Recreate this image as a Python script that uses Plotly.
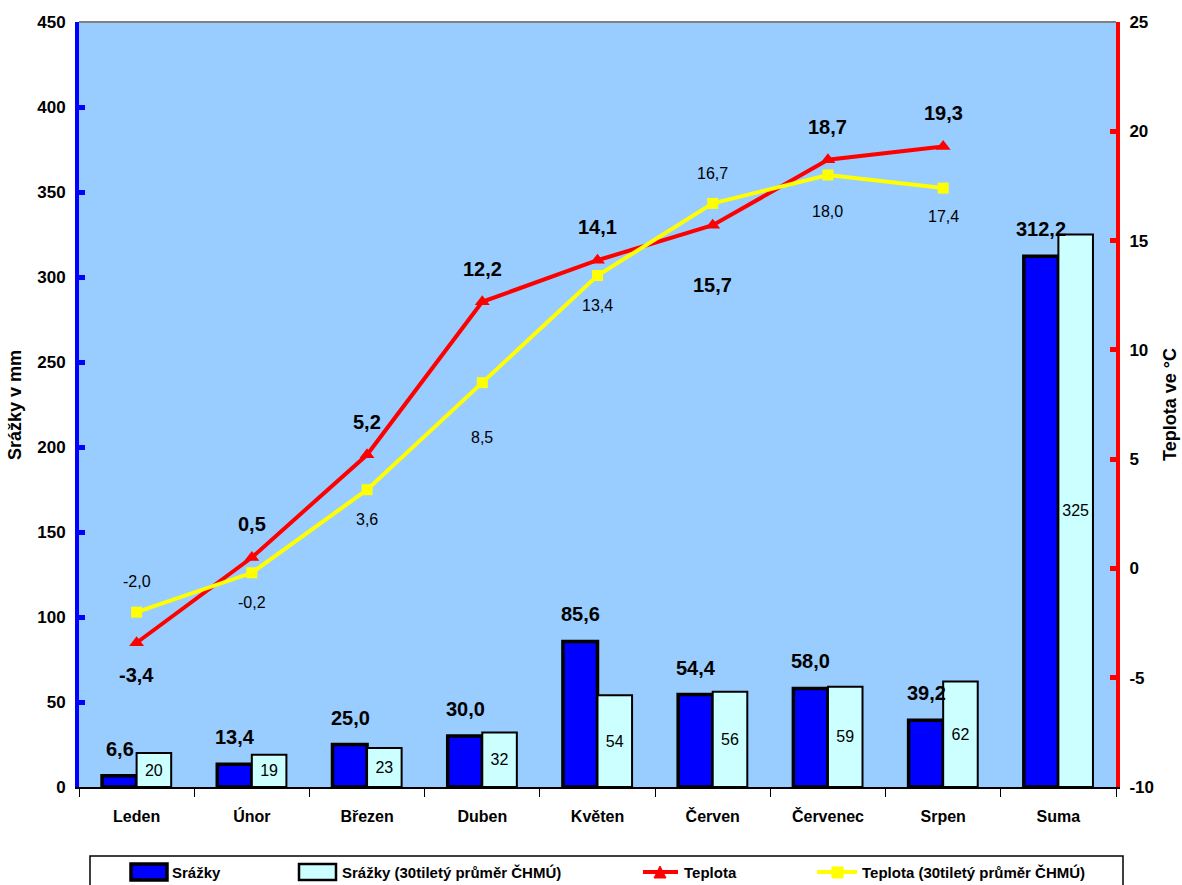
import plotly.graph_objects as go

# Monthly data
mesice = ["Leden", "Únor", "Březen", "Duben", "Květen", "Červen", "Červenec", "Srpen", "Suma"]
srazky = [6.6, 13.4, 25.0, 30.0, 85.6, 54.4, 58.0, 39.2, 312.2]
srazky_30 = [20, 19, 23, 32, 54, 56, 59, 62, 325]
teplota = [-3.4, 0.5, 5.2, 12.2, 14.1, 15.7, 18.7, 19.3]
teplota_30 = [-2.0, -0.2, 3.6, 8.5, 13.4, 16.7, 18.0, 17.4]

# right-axis ticks (plain hyphen for negatives)
teplota_ticks = [-10, -5, 0, 5, 10, 15, 20, 25]
teplota_ticktext = ["-10", "-5", "0", "5", "10", "15", "20", "25"]

# label offsets (px): positive = above the point
teplota_shift = [-32, 34, 33, 33, 33, -60, 33, 34]
teplota_30_shift = [31, -30, -30, -55, -30, 30, -36, -28]

W, H = 1182, 885
ML, MR, MT, MB = 79, 66, 22, 98
PW, PH = W - ML - MR, H - MT - MB

FONT = "Liberation Sans, Arial, sans-serif"


def px(xp):
    return (xp - ML) / PW


def py(yp):
    return (H - MB - yp) / PH


def fmt(v):
    return f"{v:.1f}".replace(".", ",")


def bold(size):
    return dict(family=FONT, size=size, color="black", weight="bold")


fig = go.Figure()

fig.add_trace(go.Bar(
    x=mesice, y=srazky, name="Srážky",
    marker=dict(color="#0000FF", line=dict(color="black", width=3.5)),
    yaxis="y", xaxis="x",
))
fig.add_trace(go.Bar(
    x=mesice, y=srazky_30, name="Srážky (30tiletý průměr ČHMÚ)",
    marker=dict(color="#CCFFFF", line=dict(color="black", width=2)),
    text=[str(v) for v in srazky_30], textposition="inside",
    insidetextanchor="middle", constraintext="none",
    textfont=dict(family=FONT, size=16, color="black"),
    yaxis="y", xaxis="x",
))
fig.add_trace(go.Scatter(
    x=mesice[:len(teplota)], y=teplota, name="Teplota",
    mode="lines+markers", line=dict(color="#FF0000", width=4),
    marker=dict(symbol="triangle-up", size=13, color="#FF0000"),
    yaxis="y2", xaxis="x",
))
fig.add_trace(go.Scatter(
    x=mesice[:len(teplota_30)], y=teplota_30, name="Teplota (30tiletý průměr ČHMÚ)",
    mode="lines+markers", line=dict(color="#FFFF00", width=4),
    marker=dict(symbol="square", size=11, color="#FFFF00"),
    yaxis="y2", xaxis="x",
))

annotations = []
# precipitation values above the blue bars
for m, v in zip(mesice, srazky):
    annotations.append(dict(
        x=m, y=v, xref="x", yref="y", text=fmt(v), showarrow=False,
        xshift=-17, yshift=27, font=bold(20),
    ))
# temperature labels
for m, v, s in zip(mesice, teplota, teplota_shift):
    annotations.append(dict(
        x=m, y=v, xref="x", yref="y2", text=fmt(v), showarrow=False,
        yshift=s, font=bold(20),
    ))
for m, v, s in zip(mesice, teplota_30, teplota_30_shift):
    annotations.append(dict(
        x=m, y=v, xref="x", yref="y2", text=fmt(v), showarrow=False,
        yshift=s, font=dict(family=FONT, size=16, color="black"),
    ))

# axis titles
annotations.append(dict(
    x=px(15), y=py(405), xref="paper", yref="paper", text="Srážky v mm",
    xanchor="center", yanchor="middle",
    textangle=-90, showarrow=False, font=bold(18),
))
annotations.append(dict(
    x=px(1170), y=py(405), xref="paper", yref="paper", text="Teplota ve °C",
    xanchor="center", yanchor="middle",
    textangle=-90, showarrow=False, font=bold(18),
))

shapes = [
    # grey top border of the plot area
    dict(type="line", xref="paper", yref="paper", x0=0, x1=1, y0=1, y1=1,
         line=dict(color="#808080", width=2)),
]

# legend drawn as a framed row below the chart
ly0, ly1 = py(864), py(880)
lyc = py(872)
shapes.append(dict(type="rect", xref="paper", yref="paper",
                   x0=px(90), x1=px(1123), y0=py(856), y1=py(900),
                   line=dict(color="black", width=1.5), fillcolor="white", layer="below"))
shapes.append(dict(type="rect", xref="paper", yref="paper",
                   x0=px(131), x1=px(167), y0=ly0, y1=ly1,
                   line=dict(color="black", width=3.5), fillcolor="#0000FF"))
shapes.append(dict(type="rect", xref="paper", yref="paper",
                   x0=px(299), x1=px(336), y0=ly0, y1=ly1,
                   line=dict(color="black", width=2.5), fillcolor="#CCFFFF"))
shapes.append(dict(type="line", xref="paper", yref="paper",
                   x0=px(643), x1=px(678), y0=lyc, y1=lyc,
                   line=dict(color="#FF0000", width=4)))
shapes.append(dict(type="path", xref="paper", yref="paper",
                   path=f"M {px(654)} {py(878)} L {px(666)} {py(878)} L {px(660)} {py(866)} Z",
                   line=dict(color="#FF0000", width=1), fillcolor="#FF0000"))
shapes.append(dict(type="line", xref="paper", yref="paper",
                   x0=px(817), x1=px(857), y0=lyc, y1=lyc,
                   line=dict(color="#FFFF00", width=4)))
shapes.append(dict(type="rect", xref="paper", yref="paper",
                   x0=px(832), x1=px(843), y0=py(878), y1=py(867),
                   line=dict(color="#FFFF00", width=1), fillcolor="#FFFF00"))

for xt, label in [(170, "Srážky"), (340, "Srážky (30tiletý průměr ČHMÚ)"),
                  (682, "Teplota"), (860, "Teplota (30tiletý průměr ČHMÚ)")]:
    annotations.append(dict(
        x=px(xt), y=lyc, xref="paper", yref="paper", text=label,
        xanchor="left", yanchor="middle", showarrow=False, font=bold(15),
    ))

fig.update_layout(
    width=W, height=H,
    margin=dict(l=ML, r=MR, t=MT, b=MB, autoexpand=False),
    paper_bgcolor="white", plot_bgcolor="#99CCFF",
    separators=", ",
    showlegend=False,
    barmode="group", bargap=0.4, bargroupgap=0,
    font=dict(family=FONT, color="black"),
    xaxis=dict(
        type="category", range=[-0.5, 8.5],
        showline=True, linecolor="black", linewidth=1.5,
        ticks="outside", tickson="boundaries", ticklen=8, tickcolor="black", tickwidth=1,
        tickfont=bold(16),
        ticklabelstandoff=14, showgrid=False, zeroline=False,
    ),
    yaxis=dict(
        range=[0, 450], dtick=50, showgrid=False, zeroline=False,
        showline=True, linecolor="#0000FF", linewidth=4,
        ticks="inside", ticklen=6, tickwidth=5, tickcolor="#0000FF",
        tickfont=bold(17), ticklabelstandoff=6,
    ),
    yaxis2=dict(
        range=[-10, 25], tickvals=teplota_ticks, ticktext=teplota_ticktext,
        overlaying="y", side="right",
        showgrid=False, zeroline=False,
        showline=True, linecolor="#FF0000", linewidth=4,
        ticks="inside", ticklen=6, tickwidth=5, tickcolor="#FF0000",
        tickfont=bold(17), ticklabelstandoff=6,
    ),
    annotations=annotations,
    shapes=shapes,
)

fig.write_html("out.html")
